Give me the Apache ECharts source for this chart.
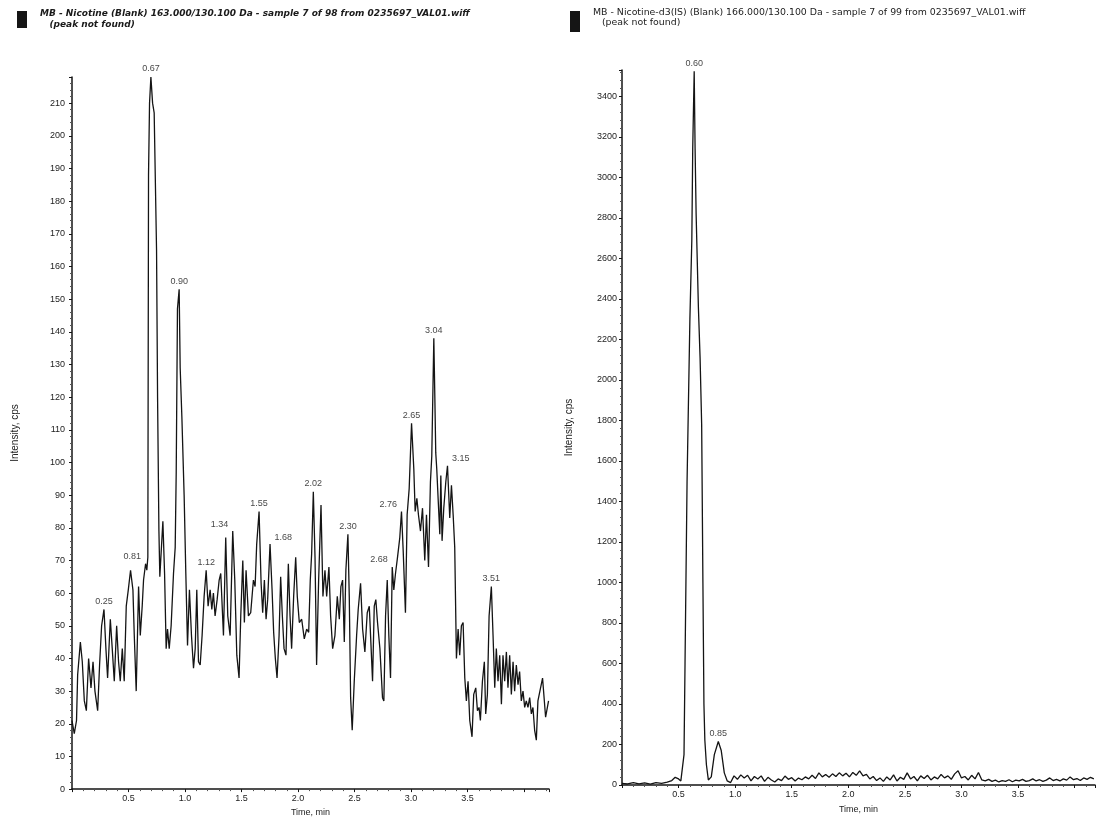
<!DOCTYPE html>
<html>
<head>
<meta charset="utf-8">
<script src="https://cdn.jsdelivr.net/npm/echarts@6/dist/echarts.min.js"></script>
<style>
  html, body { margin: 0; padding: 0; background: #fff; }
  #chart { width: 1098px; height: 822px; }
</style>
</head>
<body>
<div id="chart"></div>
<script>
// left chromatogram: MB - Nicotine (Blank)
const leftTime = [0.000, 0.020, 0.040, 0.050, 0.074, 0.091, 0.109, 0.127, 0.147, 0.168, 0.186, 0.203, 0.227, 0.244, 0.262, 0.283, 0.300, 0.315, 0.339, 0.356, 0.374, 0.395, 0.412, 0.427, 0.445, 0.462, 0.480, 0.498, 0.518, 0.539, 0.551, 0.568, 0.589, 0.604, 0.621, 0.633, 0.651, 0.662, 0.671, 0.677, 0.686, 0.698, 0.713, 0.727, 0.748, 0.757, 0.769, 0.777, 0.804, 0.819, 0.833, 0.845, 0.860, 0.877, 0.898, 0.913, 0.922, 0.933, 0.948, 0.957, 0.972, 0.992, 1.007, 1.022, 1.039, 1.057, 1.075, 1.090, 1.104, 1.119, 1.134, 1.151, 1.169, 1.187, 1.204, 1.222, 1.237, 1.251, 1.266, 1.284, 1.302, 1.316, 1.340, 1.360, 1.378, 1.399, 1.422, 1.440, 1.458, 1.478, 1.493, 1.511, 1.525, 1.540, 1.561, 1.581, 1.605, 1.620, 1.634, 1.655, 1.673, 1.687, 1.702, 1.717, 1.731, 1.752, 1.770, 1.784, 1.799, 1.814, 1.832, 1.846, 1.861, 1.876, 1.893, 1.914, 1.929, 1.943, 1.961, 1.979, 1.993, 2.011, 2.032, 2.055, 2.076, 2.094, 2.108, 2.120, 2.135, 2.150, 2.164, 2.182, 2.203, 2.220, 2.238, 2.253, 2.273, 2.288, 2.306, 2.326, 2.347, 2.365, 2.379, 2.394, 2.409, 2.423, 2.441, 2.453, 2.465, 2.479, 2.497, 2.518, 2.532, 2.553, 2.571, 2.591, 2.612, 2.630, 2.644, 2.659, 2.674, 2.688, 2.703, 2.724, 2.747, 2.759, 2.774, 2.789, 2.803, 2.818, 2.833, 2.847, 2.862, 2.880, 2.900, 2.915, 2.930, 2.950, 2.965, 2.983, 3.004, 3.024, 3.036, 3.051, 3.065, 3.083, 3.101, 3.121, 3.136, 3.154, 3.171, 3.183, 3.201, 3.210, 3.218, 3.227, 3.239, 3.254, 3.263, 3.274, 3.289, 3.307, 3.322, 3.342, 3.357, 3.372, 3.386, 3.401, 3.416, 3.430, 3.445, 3.460, 3.475, 3.489, 3.504, 3.519, 3.539, 3.554, 3.572, 3.587, 3.601, 3.613, 3.631, 3.648, 3.660, 3.675, 3.690, 3.710, 3.725, 3.740, 3.754, 3.769, 3.784, 3.799, 3.813, 3.828, 3.843, 3.857, 3.872, 3.887, 3.902, 3.916, 3.931, 3.946, 3.960, 3.975, 3.990, 4.005, 4.019, 4.034, 4.049, 4.064, 4.078, 4.093, 4.108, 4.122, 4.163, 4.190, 4.216]
const leftIntensity = [21, 17, 21, 35, 45, 39, 27, 24, 40, 31, 39, 30, 24, 38, 50, 55, 43, 34, 52, 43, 33, 50, 39, 33, 43, 33, 56, 61, 67, 61, 47, 30, 62, 47, 56, 64, 69, 67, 71, 188, 210, 218, 210, 207, 165, 120, 79, 65, 82, 66, 43, 49, 43, 50, 66, 74, 97, 147, 153, 129, 114, 90, 66, 44, 61, 47, 37, 43, 61, 39, 38, 47, 59, 67, 56, 61, 55, 60, 53, 58, 64, 66, 47, 77, 53, 47, 79, 64, 41, 34, 53, 70, 51, 67, 53, 54, 64, 62, 75, 85, 63, 54, 64, 52, 58, 75, 61, 48, 40, 34, 47, 65, 53, 43, 41, 69, 53, 43, 59, 71, 59, 51, 52, 46, 49, 48, 64, 72, 91, 71, 38, 64, 87, 59, 67, 59, 68, 53, 43, 47, 59, 52, 62, 64, 45, 67, 78, 59, 28, 18, 33, 47, 55, 63, 49, 42, 54, 56, 45, 33, 56, 58, 51, 43, 28, 27, 53, 64, 47, 34, 68, 61, 66, 71, 77, 85, 73, 54, 84, 92, 112, 98, 85, 89, 84, 79, 86, 70, 84, 68, 94, 102, 138, 120, 103, 98, 89, 78, 96, 76, 86, 94, 99, 83, 93, 84, 74, 40, 49, 41, 50, 51, 34, 27, 33, 21, 16, 29, 31, 24, 25, 21, 33, 39, 23, 29, 53, 62, 47, 31, 43, 33, 41, 26, 41, 33, 42, 31, 41, 29, 39, 30, 38, 32, 36, 27, 30, 25, 27, 25, 28, 23, 25, 18, 15, 27, 34, 22, 27]
const leftPeakTime = [0.283, 0.651, 0.698, 0.948, 1.187, 1.422, 1.655, 1.752, 2.135, 2.441, 2.833, 2.915, 3.004, 3.201, 3.322, 3.710]
const leftPeakText = ['0.25', '0.81', '0.67', '0.90', '1.12', '1.34', '1.55', '1.68', '2.02', '2.30', '2.68', '2.76', '2.65', '3.04', '3.15', '3.51']
const leftPeakSide = ['top', 'left', 'top', 'top', 'top', 'left', 'top', 'right', 'top', 'top', 'left', 'left', 'top', 'top', 'right', 'top']

// right chromatogram: MB - Nicotine-d3(IS) (Blank)
const rightTime = [0.00, 0.05, 0.10, 0.15, 0.20, 0.25, 0.30, 0.35, 0.40, 0.44, 0.47, 0.50, 0.52, 0.535, 0.548, 0.557, 0.575, 0.600, 0.617, 0.625, 0.638, 0.646, 0.655, 0.675, 0.690, 0.704, 0.715, 0.724, 0.732, 0.746, 0.763, 0.789, 0.816, 0.851, 0.877, 0.904, 0.930, 0.96, 0.99, 1.02, 1.05, 1.08, 1.11, 1.14, 1.17, 1.20, 1.23, 1.26, 1.29, 1.32, 1.35, 1.38, 1.41, 1.44, 1.47, 1.50, 1.53, 1.56, 1.59, 1.62, 1.65, 1.68, 1.71, 1.74, 1.77, 1.80, 1.83, 1.86, 1.89, 1.92, 1.95, 1.98, 2.01, 2.04, 2.07, 2.10, 2.13, 2.16, 2.19, 2.22, 2.25, 2.28, 2.31, 2.34, 2.37, 2.40, 2.43, 2.46, 2.49, 2.52, 2.55, 2.58, 2.61, 2.64, 2.67, 2.70, 2.73, 2.76, 2.79, 2.82, 2.85, 2.88, 2.91, 2.94, 2.97, 3.00, 3.03, 3.06, 3.09, 3.12, 3.15, 3.18, 3.21, 3.24, 3.27, 3.30, 3.33, 3.36, 3.39, 3.42, 3.45, 3.48, 3.51, 3.54, 3.57, 3.60, 3.63, 3.66, 3.69, 3.72, 3.75, 3.78, 3.81, 3.84, 3.87, 3.90, 3.93, 3.96, 3.99, 4.02, 4.05, 4.08, 4.11, 4.14, 4.17]
const rightIntensity = [8, 5, 12, 6, 10, 4, 12, 8, 14, 22, 38, 30, 20, 25, 150, 600, 1500, 2300, 2690, 3140, 3524, 3140, 2820, 2360, 2110, 1780, 1000, 400, 222, 100, 25, 40, 150, 215, 170, 60, 20, 12, 45, 28, 50, 35, 48, 20, 42, 30, 45, 18, 38, 25, 15, 30, 22, 44, 28, 36, 20, 34, 26, 40, 30, 48, 32, 60, 40, 52, 38, 55, 42, 60, 45, 58, 40, 62, 48, 70, 45, 52, 30, 42, 22, 35, 18, 40, 25, 50, 20, 38, 28, 60, 30, 42, 20, 45, 32, 48, 25, 40, 30, 52, 35, 45, 28, 55, 70, 35, 42, 25, 48, 30, 62, 25, 20, 28, 18, 24, 15, 22, 18, 26, 16, 24, 20, 28, 18, 22, 30, 20, 26, 18, 24, 35, 22, 28, 20, 30, 24, 40, 26, 32, 22, 35, 28, 38, 30]
const rightPeakTime = [0.638, 0.851]
const rightPeakText = ['0.60', '0.85']
const rightPeakSide = ['top', 'top']

const fontFamily = '"Liberation Sans", Arial, sans-serif'
const ink = '#141414'

function pairs(times, values) {
    return times.map((t, i) => [t, values[i]])
}

function peakPoints(times, values, peakTimes, texts, sides) {
    return peakTimes.map((pt, k) => {
        const i = times.indexOf(pt)
        const side = sides[k]
        let offset = [0, 0]
        if (side === 'left') offset = [-1, -7]
        if (side === 'right') offset = [1, -7]
        return {
            value: [times[i], values[i]],
            label: { position: side, offset: offset, formatter: texts[k] }
        }
    })
}

function xAxisFor(gridIndex, max, nameGap) {
    return {
        type: 'value', gridIndex: gridIndex, min: 0, max: max, interval: 0.5,
        name: 'Time, min', nameLocation: 'middle', nameGap: nameGap,
        nameTextStyle: { fontFamily: fontFamily, fontSize: 9, color: '#222' },
        axisLine: { lineStyle: { color: ink, width: 1.5 } },
        axisTick: { length: 3, lineStyle: { color: ink } },
        minorTick: { show: true, splitNumber: 5, length: 2, lineStyle: { color: '#555' } },
        splitLine: { show: false },
        axisLabel: {
            fontFamily: fontFamily, fontSize: 9, color: '#222', margin: 5,
            formatter: v => (v >= 0.5 && v <= 3.5) ? v.toFixed(1) : ''
        }
    }
}

function yAxisFor(gridIndex, max, interval, nameGap, margin) {
    return {
        type: 'value', gridIndex: gridIndex, min: 0, max: max, interval: interval,
        name: 'Intensity, cps', nameLocation: 'middle', nameGap: nameGap,
        nameTextStyle: { fontFamily: fontFamily, fontSize: 10, color: '#222' },
        axisLine: { show: true, lineStyle: { color: ink, width: 1.5 } },
        axisTick: { show: true, length: 3, lineStyle: { color: ink } },
        minorTick: { show: true, splitNumber: 5, length: 2, lineStyle: { color: '#555' } },
        splitLine: { show: false },
        axisLabel: {
            fontFamily: fontFamily, fontSize: 9, color: '#222', margin: margin,
            showMaxLabel: false,
            formatter: v => String(v)
        }
    }
}

function traceSeries(idx, times, values) {
    return {
        type: 'line', xAxisIndex: idx, yAxisIndex: idx,
        data: pairs(times, values), symbol: 'none',
        lineStyle: { color: ink, width: 1.3 }
    }
}

function labelSeries(idx, times, values, peakTimes, texts, sides) {
    return {
        type: 'scatter', xAxisIndex: idx, yAxisIndex: idx,
        symbolSize: 1, z: 5,
        itemStyle: { color: 'rgba(0,0,0,0)' },
        label: {
            show: true, distance: 3,
            fontFamily: fontFamily, fontSize: 9, color: '#111'
        },
        data: peakPoints(times, values, peakTimes, texts, sides)
    }
}

const chart = echarts.init(document.getElementById('chart'), null, { renderer: 'canvas' })

chart.setOption({
    animation: false,
    backgroundColor: '#fff',
    title: [
        {
            text: 'MB - Nicotine (Blank) 163.000/130.100 Da - sample 7 of 98 from 0235697_VAL01.wiff\n   (peak not found)',
            left: 35, top: 3,
            textStyle: { fontFamily: '"DejaVu Sans", sans-serif', fontSize: 9, fontStyle: 'italic', fontWeight: 'bold', color: '#1a1a1a', lineHeight: 11 }
        },
        {
            text: 'MB - Nicotine-d3(IS) (Blank) 166.000/130.100 Da - sample 7 of 99 from 0235697_VAL01.wiff\n   (peak not found)',
            left: 588, top: 3,
            textStyle: { fontFamily: '"DejaVu Sans", sans-serif', fontSize: 9.4, fontWeight: 'normal', color: '#222', lineHeight: 10 }
        }
    ],
    graphic: [
        { type: 'rect', left: 17, top: 11, shape: { width: 10, height: 17 }, style: { fill: '#151515' } },
        { type: 'rect', left: 570, top: 11, shape: { width: 10, height: 21 }, style: { fill: '#151515' } }
    ],
    grid: [
        { left: 72, top: 77, width: 477, height: 715 },
        { left: 622, top: 70, width: 476, height: 715 }
    ],
    xAxis: [xAxisFor(0, 4.22, 17), xAxisFor(1, 4.18, 20)],
    yAxis: [yAxisFor(0, 218, 10, 52, 7), yAxisFor(1, 3530, 200, 48, 5)],
    series: [
        traceSeries(0, leftTime, leftIntensity),
        labelSeries(0, leftTime, leftIntensity, leftPeakTime, leftPeakText, leftPeakSide),
        traceSeries(1, rightTime, rightIntensity),
        labelSeries(1, rightTime, rightIntensity, rightPeakTime, rightPeakText, rightPeakSide)
    ]
})
</script>
</body>
</html>
